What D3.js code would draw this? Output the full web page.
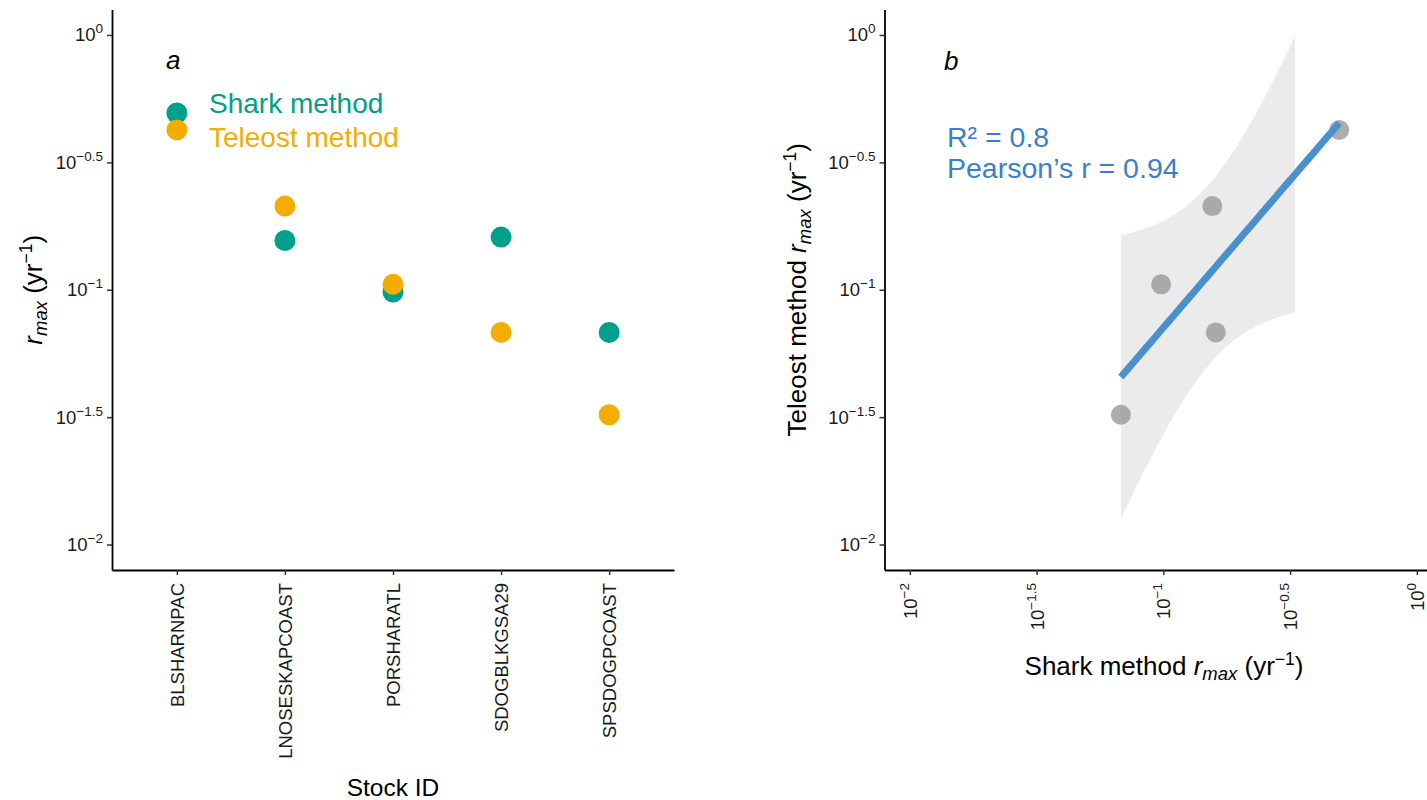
<!DOCTYPE html>
<html>
<head>
<meta charset="utf-8">
<script src="https://cdn.jsdelivr.net/npm/d3@7"></script>
<style>
  html, body { margin: 0; padding: 0; background: #fff; }
  svg { display: block; font-family: "Liberation Sans", Arial, Helvetica, sans-serif; }
</style>
</head>
<body>
<svg id="chart" width="1427" height="800"></svg>
<script>
// Stock-level maximum intrinsic rates of increase (yr^-1) from two estimation methods
const stocks = ["BLSHARNPAC", "LNOSESKAPCOAST", "PORSHARATL", "SDOGBLKGSA29", "SPSDOGPCOAST"];
const sharkRmax = [0.494, 0.156, 0.098, 0.161, 0.068];
const teleostRmax = [0.424, 0.213, 0.105, 0.068, 0.0323];

// log10 tick exponents shared by both panels
const tickExponents = [-2, -1.5, -1, -0.5, 0];
const tickValues = tickExponents.map(e => Math.pow(10, e));

// Annotation text
const seriesNames = ["Shark method", "Teleost method"];
const statsLines = ["R\u00B2 = 0.8", "Pearson\u2019s r = 0.94"];

const colShark = "#00A08A";
const colTeleost = "#F2AD00";
const colFit = "#4A90CD";
const colFitText = "#3B80C6";

const svg = d3.select("#chart");
const fontTick = 18.5, fontTitle = 26;

// y extent: limits 0.01..1 plus 0.1-decade padding on each side
const yLo = Math.pow(10, -2.1), yHi = Math.pow(10, 0.1);
const plotTop = 9.5, plotBottom = 570;

function expText(exp) {
  return exp === 0 ? "0" : "\u2212" + Math.abs(exp);
}

function supLabel(sel, exp) {
  sel.text(null);
  sel.append("tspan").text("10");
  sel.append("tspan").attr("font-size", 13.5).attr("dy", -8).text(expText(exp));
}

function styleAxis(g) {
  g.select(".domain").attr("stroke", "#000").attr("stroke-width", 1.8);
  g.selectAll(".tick line").attr("stroke", "#333").attr("stroke-width", 1.5);
  g.selectAll(".tick text").attr("fill", "#1a1a1a").attr("font-size", fontTick);
}

// rmax (yr^-1) title built from tspans
function rmaxTitle(sel, prefix) {
  if (prefix) sel.append("tspan").text(prefix);
  sel.append("tspan").attr("font-style", "italic").text("r");
  sel.append("tspan").attr("font-style", "italic").attr("font-size", 18.5).attr("dy", 5).text("max");
  sel.append("tspan").attr("dy", -5).text(" (yr");
  sel.append("tspan").attr("font-size", 17.5).attr("dy", -10).text("\u22121");
  sel.append("tspan").attr("dy", 10).text(")");
}

/* ---------------- Panel a ---------------- */
const ax = d3.scalePoint().domain(stocks).range([112, 674]).padding(0.6);
const ay = d3.scaleLog().domain([yLo, yHi]).range([plotBottom, plotTop]);

const gA = svg.append("g");

const yAxisA = gA.append("g").attr("transform", "translate(112,0)")
  .call(d3.axisLeft(ay).tickValues(tickValues).tickSize(5).tickSizeOuter(0).tickPadding(4));
yAxisA.selectAll(".tick text").each(function(d, i) { supLabel(d3.select(this), tickExponents[i]); });
styleAxis(yAxisA);

const xAxisA = gA.append("g").attr("transform", `translate(0,${plotBottom})`)
  .call(d3.axisBottom(ax).tickSize(5).tickSizeOuter(0));
styleAxis(xAxisA);
xAxisA.selectAll(".tick text")
  .attr("transform", "rotate(-90)")
  .attr("text-anchor", "end")
  .attr("x", -13).attr("y", 0).attr("dy", "0.35em");

// Points: shark first, teleost on top
gA.append("g").selectAll("circle").data(stocks).join("circle")
  .attr("cx", d => ax(d)).attr("cy", (d, i) => ay(sharkRmax[i]))
  .attr("r", 10.5).attr("fill", colShark);
gA.append("g").selectAll("circle").data(stocks).join("circle")
  .attr("cx", d => ax(d)).attr("cy", (d, i) => ay(teleostRmax[i]))
  .attr("r", 10.5).attr("fill", colTeleost);

gA.append("text").attr("x", 166).attr("y", 69).attr("font-size", 26)
  .attr("font-style", "italic").text("a");
gA.append("text").attr("x", 209).attr("y", 113).attr("font-size", 28)
  .attr("fill", colShark).text(seriesNames[0]);
gA.append("text").attr("x", 209).attr("y", 147).attr("font-size", 28)
  .attr("fill", colTeleost).text(seriesNames[1]);

gA.append("text").attr("x", 393).attr("y", 796).attr("text-anchor", "middle")
  .attr("font-size", 24.5).text("Stock ID");
const yTitleA = gA.append("text")
  .attr("transform", `translate(42,${(plotTop + plotBottom) / 2}) rotate(-90)`)
  .attr("text-anchor", "middle").attr("font-size", fontTitle);
rmaxTitle(yTitleA, null);

/* ---------------- Panel b ---------------- */
const bLeft = 884.5;
const bx = d3.scaleLog().domain([yLo, yHi]).range([bLeft, bLeft + 557.7]);
const by = d3.scaleLog().domain([yLo, yHi]).range([plotBottom, plotTop]);

const gB = svg.append("g");

// Linear fit of log10(teleost) on log10(shark), with 95% confidence band
const lx = sharkRmax.map(Math.log10), ly = teleostRmax.map(Math.log10);
const n = lx.length;
const mx = d3.mean(lx), my = d3.mean(ly);
const sxx = d3.sum(lx, v => (v - mx) ** 2);
const sxy = d3.sum(lx.map((v, i) => (v - mx) * (ly[i] - my)));
const slope = sxy / sxx, intercept = my - slope * mx;
const sse = d3.sum(lx.map((v, i) => (ly[i] - (intercept + slope * v)) ** 2));
const sRes = Math.sqrt(sse / (n - 2));
const tCrit = 3.182446; // t(0.975, df = 3)
const [xMin, xMax] = d3.extent(lx);
const grid = d3.range(80).map(k => {
  const x = xMin + (xMax - xMin) * k / 79;
  const fit = intercept + slope * x;
  const half = tCrit * sRes * Math.sqrt(1 / n + (x - mx) ** 2 / sxx);
  return { x, fit, lo: fit - half, hi: fit + half };
});

const band = d3.area()
  .defined(d => d.hi <= 0 && d.lo >= -2)
  .x(d => bx(Math.pow(10, d.x)))
  .y0(d => by(Math.pow(10, d.lo)))
  .y1(d => by(Math.pow(10, d.hi)));
gB.append("path").datum(grid).attr("d", band).attr("fill", "#EBEBEB");

gB.append("g").selectAll("circle").data(stocks).join("circle")
  .attr("cx", (d, i) => bx(sharkRmax[i])).attr("cy", (d, i) => by(teleostRmax[i]))
  .attr("r", 10).attr("fill", "#999").attr("fill-opacity", 0.8);

const fitLine = d3.line()
  .x(d => bx(Math.pow(10, d.x)))
  .y(d => by(Math.pow(10, d.fit)));
gB.append("path").datum(grid).attr("d", fitLine)
  .attr("fill", "none").attr("stroke", colFit).attr("stroke-width", 7);

const yAxisB = gB.append("g").attr("transform", `translate(${bLeft},0)`)
  .call(d3.axisLeft(by).tickValues(tickValues).tickSize(5).tickSizeOuter(0).tickPadding(4));
yAxisB.selectAll(".tick text").each(function(d, i) { supLabel(d3.select(this), tickExponents[i]); });
styleAxis(yAxisB);

const xAxisB = gB.append("g").attr("transform", `translate(0,${plotBottom})`)
  .call(d3.axisBottom(bx).tickValues(tickValues).tickSize(5).tickSizeOuter(0));
styleAxis(xAxisB);
xAxisB.selectAll(".tick text")
  .attr("transform", "rotate(-90)")
  .attr("text-anchor", "end")
  .attr("x", -13).attr("y", 0).attr("dy", "0.35em")
  .each(function(d, i) { supLabel(d3.select(this), tickExponents[i]); });

gB.append("text").attr("x", 944).attr("y", 70).attr("font-size", 26)
  .attr("font-style", "italic").text("b");
gB.append("text").attr("x", 947).attr("y", 147).attr("font-size", 28.5)
  .attr("fill", colFitText).text(statsLines[0]);
gB.append("text").attr("x", 947).attr("y", 178).attr("font-size", 28.5)
  .attr("fill", colFitText).text(statsLines[1]);

const xTitleB = gB.append("text").attr("x", 1164).attr("y", 675)
  .attr("text-anchor", "middle").attr("font-size", fontTitle);
rmaxTitle(xTitleB, "Shark method ");
const yTitleB = gB.append("text")
  .attr("transform", `translate(806,${(plotTop + plotBottom) / 2}) rotate(-90)`)
  .attr("text-anchor", "middle").attr("font-size", fontTitle);
rmaxTitle(yTitleB, "Teleost method ");
</script>
</body>
</html>
